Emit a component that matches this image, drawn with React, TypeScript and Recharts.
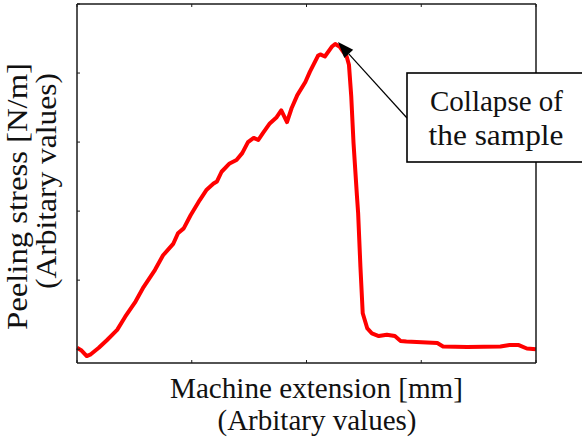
import React from 'react';
import { LineChart, Line, XAxis, YAxis } from 'recharts';

// Machine extension (arbitrary units) and peeling stress (arbitrary units)
const extension = [
  0.0, 0.04, 0.085, 0.115, 0.19, 0.26, 0.35, 0.42, 0.51, 0.58, 0.68, 0.75, 0.84, 0.88, 0.93, 0.99,
  1.07, 1.13, 1.19, 1.22, 1.26, 1.33, 1.39, 1.44, 1.49, 1.54, 1.58, 1.62, 1.68, 1.74, 1.78, 1.83,
  1.87, 1.92, 1.99, 2.03, 2.1, 2.12, 2.16, 2.22, 2.25, 2.29, 2.35, 2.37, 2.39, 2.41, 2.44, 2.45,
  2.47, 2.49, 2.53, 2.57, 2.63, 2.7, 2.77, 2.82, 2.87, 3.14, 3.19, 3.4, 3.69, 3.77, 3.85, 3.92, 4.0,
];
const stress = [
  0.02, -0.02, -0.1, -0.08, 0.02, 0.13, 0.28, 0.47, 0.69, 0.9, 1.15, 1.36, 1.53, 1.68, 1.75, 1.94,
  2.16, 2.31, 2.4, 2.43, 2.57, 2.69, 2.74, 2.84, 3.0, 3.06, 3.03, 3.13, 3.27, 3.36, 3.46, 3.29,
  3.49, 3.68, 3.87, 4.02, 4.25, 4.27, 4.24, 4.38, 4.42, 4.38, 4.24, 4.12, 3.66, 2.98, 2.21, 1.97,
  1.19, 0.52, 0.3, 0.23, 0.19, 0.21, 0.19, 0.12, 0.11, 0.09, 0.04, 0.03, 0.04, 0.06, 0.06, 0.01, 0.0,
];
const xTicks = [0, 1, 2, 3, 4];
const yTicks = [0, 1, 2, 3, 4, 5];
const xTitle = ['Machine extension [mm]', '(Arbitary values)'];
const yTitle = ['Peeling stress [N/m]', '(Arbitary values)'];
const note = ['Collapse of', 'the sample'];

const data = extension.map((x, i) => ({ x, y: stress[i] }));

const FONT = "'Liberation Serif', 'Times New Roman', serif";
const AXIS = '#1a1a1a';
const TICK = 3;

const makeTick = (dx: number, dy: number) => (props: any) => {
  const { x, y } = props;
  return <line x1={x} y1={y} x2={x + dx} y2={y + dy} stroke={AXIS} strokeWidth={1} />;
};

const W = 582;
const H = 441;

// arrow geometry (annotation)
const tip = { x: 338, y: 42 };
const tail = { x: 407, y: 118 };
const len = Math.hypot(tail.x - tip.x, tail.y - tip.y);
const ux = (tail.x - tip.x) / len;
const uy = (tail.y - tip.y) / len;
const headL = 16;
const headW = 6;
const bx = tip.x + ux * headL;
const by = tip.y + uy * headL;
const head = `${tip.x},${tip.y} ${bx - uy * headW},${by + ux * headW} ${bx + uy * headW},${by - ux * headW}`;

const txt: React.CSSProperties = { fontFamily: FONT, fontSize: 29, fill: '#111' };

export default function App() {
  return (
    <div style={{ position: 'absolute', left: 0, top: 0, width: W, height: H, background: '#fff' }}>
      <LineChart width={W} height={H} data={data} margin={{ top: 3, right: 45, bottom: 77, left: 76 }}>
        <XAxis
          dataKey="x"
          type="number"
          domain={[0, 4]}
          ticks={xTicks}
          interval={0}
          height={1}
          tickSize={0}
          tickMargin={0}
          tick={makeTick(0, -TICK)}
          axisLine={{ stroke: AXIS, strokeWidth: 1.5 }}
        />
        <XAxis
          xAxisId="top"
          orientation="top"
          dataKey="x"
          type="number"
          domain={[0, 4]}
          ticks={xTicks}
          interval={0}
          height={1}
          tickSize={0}
          tickMargin={0}
          tick={makeTick(0, TICK)}
          axisLine={{ stroke: AXIS, strokeWidth: 1.5 }}
        />
        <YAxis
          type="number"
          domain={[-0.2, 5]}
          ticks={yTicks}
          interval={0}
          width={1}
          tickSize={0}
          tickMargin={0}
          tick={makeTick(TICK, 0)}
          axisLine={{ stroke: AXIS, strokeWidth: 1.5 }}
        />
        <YAxis
          yAxisId="right"
          orientation="right"
          type="number"
          domain={[-0.2, 5]}
          ticks={yTicks}
          interval={0}
          width={1}
          tickSize={0}
          tickMargin={0}
          tick={makeTick(-TICK, 0)}
          axisLine={{ stroke: AXIS, strokeWidth: 1.5 }}
        />
        <Line
          dataKey="y"
          type="linear"
          stroke="#ff0000"
          strokeWidth={4}
          dot={false}
          strokeLinejoin="round"
          isAnimationActive={false}
        />
      </LineChart>
      <svg
        width={W}
        height={H}
        style={{ position: 'absolute', left: 0, top: 0, pointerEvents: 'none' }}
      >
        <text style={txt} x={316.5} y={398} textAnchor="middle" textLength={293} lengthAdjust="spacingAndGlyphs">
          {xTitle[0]}
        </text>
        <text style={txt} x={317} y={430} textAnchor="middle" textLength={199} lengthAdjust="spacingAndGlyphs">
          {xTitle[1]}
        </text>
        <text
          style={txt}
          transform="translate(27,196.5) rotate(-90)"
          x={0}
          y={0}
          textAnchor="middle"
          textLength={267}
          lengthAdjust="spacingAndGlyphs"
        >
          {yTitle[0]}
        </text>
        <text
          style={txt}
          transform="translate(55.5,181) rotate(-90)"
          x={0}
          y={0}
          textAnchor="middle"
          textLength={216}
          lengthAdjust="spacingAndGlyphs"
        >
          {yTitle[1]}
        </text>
        <line x1={tail.x} y1={tail.y} x2={bx} y2={by} stroke="#000" strokeWidth={1.2} />
        <polygon points={head} fill="#000" />
        <rect x={407} y={73} width={200} height={89} fill="#fff" stroke="#000" strokeWidth={1.6} />
        <text style={txt} x={496.5} y={111} textAnchor="middle" textLength={133} lengthAdjust="spacingAndGlyphs">
          {note[0]}
        </text>
        <text style={txt} x={496} y={145} textAnchor="middle" textLength={135} lengthAdjust="spacingAndGlyphs">
          {note[1]}
        </text>
      </svg>
    </div>
  );
}
